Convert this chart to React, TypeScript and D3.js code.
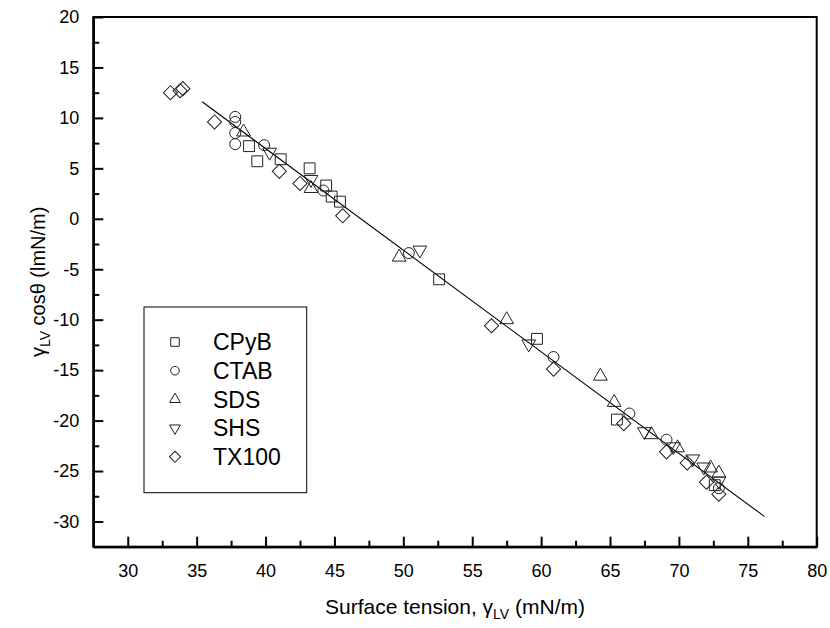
import { useRef, useEffect } from "react";
import * as d3 from "d3";

// CPyB (squares)
const cpybX = [38.8, 39.4, 41.1, 43.2, 44.4, 44.8, 45.4, 52.6, 59.7, 65.5, 72.6];
const cpybY = [7.2, 5.7, 5.9, 5.0, 3.3, 2.2, 1.7, -6.0, -11.9, -19.9, -26.4];
// CTAB (circles)
const ctabX = [37.8, 37.8, 37.8, 37.8, 39.9, 44.2, 50.4, 60.9, 66.4, 69.1, 72.9];
const ctabY = [10.1, 9.6, 8.5, 7.4, 7.3, 2.8, -3.4, -13.7, -19.3, -21.9, -26.7];
// SDS (up triangles)
const sdsX = [38.4, 43.3, 49.7, 57.5, 64.3, 65.3, 68.0, 69.9, 72.3, 72.9];
const sdsY = [8.6, 3.0, -3.8, -10.0, -15.6, -18.2, -21.4, -22.7, -24.7, -25.2];
// SHS (down triangles)
const shsX = [40.3, 43.3, 51.2, 59.1, 67.5, 69.6, 71.0, 71.8, 72.9];
const shsY = [6.6, 3.9, -3.1, -12.4, -21.1, -22.6, -23.8, -24.6, -26.0];
// TX100 (diamonds)
const txX = [33.1, 33.8, 34.0, 36.3, 41.0, 42.5, 45.6, 56.4, 60.9, 66.0, 69.1, 70.6, 72.0, 72.9];
const txY = [12.5, 12.7, 12.9, 9.6, 4.7, 3.5, 0.3, -10.6, -14.9, -20.3, -23.1, -24.2, -26.1, -27.3];

// linear fit
const fitX = [35.4, 76.2];
const fitY = [11.6, -29.5];

const seriesNames = ["CPyB", "CTAB", "SDS", "SHS", "TX100"];
const xTicks = [30, 35, 40, 45, 50, 55, 60, 65, 70, 75, 80];
const xMinor = [32.5, 37.5, 42.5, 47.5, 52.5, 57.5, 62.5, 67.5, 72.5, 77.5];
const yTicks = [-30, -25, -20, -15, -10, -5, 0, 5, 10, 15, 20];
const yMinor = [-27.5, -22.5, -17.5, -12.5, -7.5, -2.5, 2.5, 7.5, 12.5, 17.5];

const FONT = "'Liberation Sans', Arial, sans-serif";

export default function App() {
  const ref = useRef<SVGSVGElement>(null);

  useEffect(() => {
    if (!ref.current) return;
    const svg = d3.select(ref.current);
    svg.selectAll("*").remove();

    const L = 93.3, R = 816.7, T = 17, B = 546.7;
    const x = d3.scaleLinear().domain([27.5, 80]).range([L, R]);
    const y = d3.scaleLinear().domain([-32.5, 20]).range([B, T]);
    const plain = (d: any) => String(d); // hyphen minus, as in the original

    const styleAxis = (g: any) => {
      g.select(".domain").attr("stroke", "#000").attr("stroke-width", 2);
      g.selectAll(".tick line").attr("stroke", "#000").attr("stroke-width", 2);
      g.selectAll(".tick text").attr("font-family", FONT).attr("font-size", 18).attr("fill", "#000");
    };

    // frame
    svg.append("rect")
      .attr("x", L).attr("y", T).attr("width", R - L).attr("height", B - T)
      .attr("fill", "none").attr("stroke", "#000").attr("stroke-width", 2);

    svg.append("g").attr("transform", `translate(0,${B})`)
      .call(d3.axisBottom(x).tickValues(xMinor).tickSize(-6).tickSizeOuter(0).tickFormat(() => ""))
      .call(styleAxis);
    svg.append("g").attr("transform", `translate(0,${B})`)
      .call(d3.axisBottom(x).tickValues(xTicks).tickSize(-10).tickSizeOuter(0).tickPadding(18).tickFormat(plain))
      .call(styleAxis);
    svg.append("g").attr("transform", `translate(${L},0)`)
      .call(d3.axisLeft(y).tickValues(yMinor).tickSize(-6).tickSizeOuter(0).tickFormat(() => ""))
      .call(styleAxis);
    svg.append("g").attr("transform", `translate(${L},0)`)
      .call(d3.axisLeft(y).tickValues(yTicks).tickSize(-10).tickSizeOuter(0).tickPadding(14).tickFormat(plain))
      .call(styleAxis);

    // fit line
    const fit = fitX.map((v, i) => [v, fitY[i]] as [number, number]);
    svg.append("path")
      .datum(fit)
      .attr("fill", "none").attr("stroke", "#000").attr("stroke-width", 1.1)
      .attr("d", d3.line().x((d) => x(d[0])).y((d) => y(d[1])));

    const shapes = [
      { type: d3.symbolSquare, size: 118, rot: 0 },
      { type: d3.symbolCircle, size: 95, rot: 0 },
      { type: d3.symbolTriangle, size: 82, rot: 0 },
      { type: d3.symbolTriangle, size: 82, rot: 180 },
      { type: d3.symbolSquare, size: 100, rot: 45 },
    ];
    const series = [
      [cpybX, cpybY],
      [ctabX, ctabY],
      [sdsX, sdsY],
      [shsX, shsY],
      [txX, txY],
    ];

    series.forEach(([xs, ys], si) => {
      const sh = shapes[si];
      const sym = d3.symbol().type(sh.type).size(sh.size);
      svg.append("g")
        .selectAll("path")
        .data(xs.map((v, i) => [v, ys[i]]))
        .join("path")
        .attr("d", sym() as string)
        .attr("transform", (d) => `translate(${x(d[0])},${y(d[1])}) rotate(${sh.rot})`)
        .attr("fill", "none").attr("stroke", "#222").attr("stroke-width", 1);
    });

    // legend
    const lg = svg.append("g");
    lg.append("rect")
      .attr("x", 144).attr("y", 307).attr("width", 162.7).attr("height", 185.7)
      .attr("fill", "#fff").attr("stroke", "#000").attr("stroke-width", 1);
    seriesNames.forEach((name, i) => {
      const sh = shapes[i];
      const cy = 342 + i * 28.7;
      lg.append("path")
        .attr("d", d3.symbol().type(sh.type).size(sh.size * 0.62)() as string)
        .attr("transform", `translate(175,${cy}) rotate(${sh.rot})`)
        .attr("fill", "none").attr("stroke", "#222").attr("stroke-width", 1);
      lg.append("text")
        .attr("x", 213).attr("y", cy).attr("dy", "0.36em")
        .attr("font-family", FONT).attr("font-size", 23)
        .text(name);
    });

    // axis titles
    const xt = svg.append("text")
      .attr("x", (L + R) / 2).attr("y", 614)
      .attr("text-anchor", "middle")
      .attr("font-family", FONT).attr("font-size", 21);
    xt.append("tspan").text("Surface tension, γ");
    xt.append("tspan").attr("dy", 5).attr("font-size", 14).text("LV");
    xt.append("tspan").attr("dy", -5).text(" (mN/m)");

    const yt = svg.append("text")
      .attr("transform", `translate(45,${(T + B) / 2}) rotate(-90)`)
      .attr("text-anchor", "middle")
      .attr("font-family", FONT).attr("font-size", 20);
    yt.append("tspan").text("γ");
    yt.append("tspan").attr("dy", 5).attr("font-size", 14).text("LV");
    yt.append("tspan").attr("dy", -5).text(" cosθ (lmN/m)");
  }, []);

  return (
    <svg
      ref={ref}
      width={830}
      height={628}
      style={{ position: "absolute", left: 0, top: 0, background: "#fff" }}
    />
  );
}
